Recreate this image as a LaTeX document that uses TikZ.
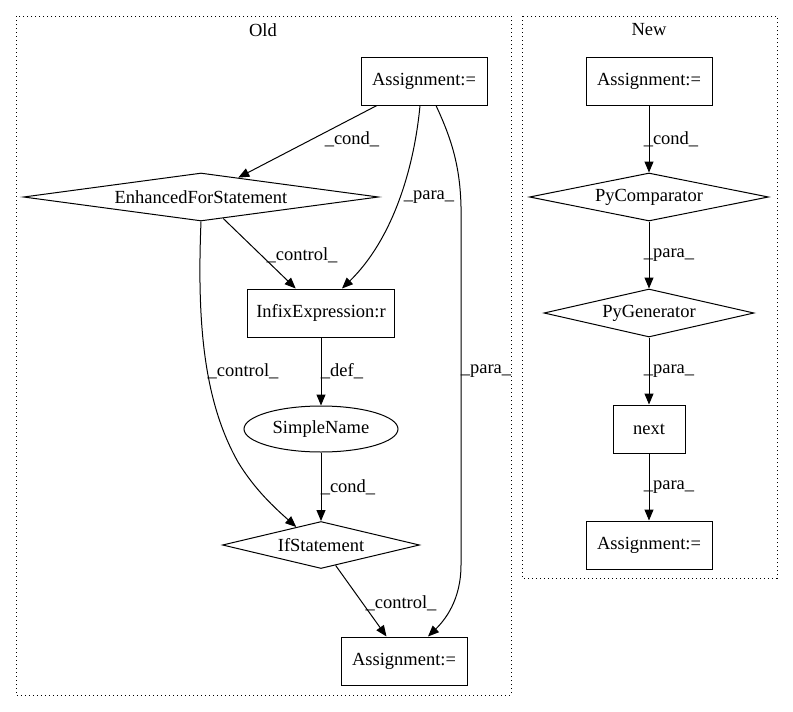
\documentclass[tikz,border=0pt]{standalone}
\usepackage{fontspec}
\setmainfont{Liberation Serif}
\usetikzlibrary{shapes.geometric,arrows.meta,calc}
\begin{document}
\begin{tikzpicture}[x=1pt,y=-1pt,
  every node/.style={font=\fontsize{18.5}{20}\selectfont},
  box/.style={draw,line width=1pt,rectangle,inner sep=0pt,minimum height=48pt},
  dia/.style={draw,line width=1pt,diamond,inner sep=0pt},
  ell/.style={draw,line width=1pt,ellipse,inner sep=0pt},
  arr/.style={line width=1pt,-{Triangle[length=11pt,width=9pt]}},
  lab/.style={inner sep=0pt},
  cluster/.style={draw,line width=1pt,dash pattern=on 1.2pt off 2.8pt}]
\useasboundingbox (0,0) rectangle (793,712);
% clusters
\draw[cluster] (16,16) rectangle (511,695);
\node (oldt) at (263,30) {Old};
\draw[cluster] (522,16) rectangle (777,578);
\node (newt) at (649,30) {New};
% Old nodes
\node[box,minimum width=126pt] (oa1) at (424,81) {Assignment:=};
\node[dia,aspect=7.4,minimum width=355pt,minimum height=48pt] (efs) at (201,197) {EnhancedForStatement};
\node[box,minimum width=147pt] (infix) at (321,313) {InfixExpression:r};
\node[ell,minimum width=154pt,minimum height=46pt] (sn) at (321,429) {SimpleName};
\node[dia,aspect=4.2,minimum width=197pt,minimum height=47pt] (ifs) at (321,545) {IfStatement};
\node[box,minimum width=126pt] (oa2) at (404,661) {Assignment:=};
% Old edges
\draw[arr] (oa1) -- (efs);
\draw[arr] ([xshift=-4pt]oa1.south) .. controls (414,170) and (392,240) .. ([xshift=21pt]infix.north);
\draw[arr] ([xshift=12pt]oa1.south) .. controls (452,140) and (462,170) .. (461,220) -- (461,565) .. controls (461,600) and (445,620) .. ([xshift=24pt]oa2.north);
\draw[arr] (efs) -- (infix);
\draw[arr] (efs.south) .. controls (197,320) and (203,400) .. (238,462) .. controls (255,490) and (275,508) .. ($(ifs.north)!0.25!(ifs.west)$);
\draw[arr] (infix) -- (sn);
\draw[arr] (sn) -- (ifs);
\draw[arr] (ifs) -- (oa2);
% Old labels
\node[lab] (l1) at (352,139) {\_cond\_};
\node[lab] (l2) at (429,197) {\_para\_};
\node[lab] (l3) at (302,255) {\_control\_};
\node[lab] (l4) at (243,371) {\_control\_};
\node[lab] (l5) at (342,371) {\_def\_};
\node[lab] (l6) at (486,371) {\_para\_};
\node[lab] (l7) at (348,487) {\_cond\_};
\node[lab] (l8) at (401,603) {\_control\_};
% New nodes
\node[box,minimum width=126pt] (na1) at (649,81) {Assignment:=};
\node[dia,aspect=5,minimum width=239pt,minimum height=48pt] (pyc) at (649,197) {PyComparator};
\node[dia,aspect=4.4,minimum width=210pt,minimum height=48pt] (pyg) at (649,313) {PyGenerator};
\node[box,minimum width=72pt] (nxt) at (649,429) {next};
\node[box,minimum width=126pt] (na2) at (649,545) {Assignment:=};
% New edges
\draw[arr] (na1) -- (pyc);
\draw[arr] (pyc) -- (pyg);
\draw[arr] (pyg) -- (nxt);
\draw[arr] (nxt) -- (na2);
% New labels
\node[lab] (n1) at (671,139) {\_cond\_};
\node[lab] (n2) at (669,255) {\_para\_};
\node[lab] (n3) at (669,371) {\_para\_};
\node[lab] (n4) at (669,487) {\_para\_};
\end{tikzpicture}
\end{document}
